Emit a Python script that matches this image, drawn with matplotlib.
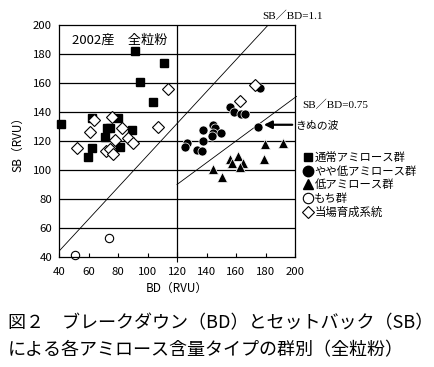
import numpy as np
import matplotlib
matplotlib.use("Agg")
import matplotlib.pyplot as plt
from matplotlib.lines import Line2D

plt.rcParams['font.family'] = ['Noto Sans CJK JP', 'DejaVu Sans']

# ---- data (BD, SB in RVU) ----
normal_bd = [41.2, 62.4, 80.0, 72.5, 74.6, 89.5, 71.2, 81.4, 62.4, 59.7, 91.5, 111.2, 94.9, 103.7]
normal_sb = [131.7, 135.9, 135.9, 129.0, 129.0, 127.6, 122.8, 115.9, 115.2, 109.0, 182.0, 173.8, 160.7, 146.9]

slightlow_bd = [155.9, 158.6, 163.4, 166.1, 176.3, 174.9, 144.4, 145.8, 137.6, 144.4, 149.8, 143.7,
                137.6, 126.8, 125.4, 133.6, 137.0]
slightlow_sb = [143.4, 140.0, 138.6, 138.6, 156.6, 129.7, 131.0, 129.0, 127.6, 125.5, 125.5, 123.4,
                120.0, 118.6, 115.9, 113.8, 113.1]

low_bd = [179.7, 191.9, 179.0, 161.4, 155.9, 157.3, 164.7, 162.7, 144.4, 150.5]
low_sb = [117.9, 118.6, 107.6, 109.7, 107.6, 104.8, 104.8, 102.0, 100.7, 95.2]

waxy_bd = [51.0, 74.0]
waxy_sb = [41.4, 53.0]

breed_bd = [52.2, 63.7, 61.0, 75.9, 82.7, 78.0, 86.8, 90.2, 71.9, 74.6, 76.6, 107.1, 113.9, 162.7, 172.9]
breed_sb = [115.2, 134.5, 126.2, 136.6, 129.0, 120.7, 122.0, 118.6, 113.1, 114.5, 111.0, 129.7, 155.9, 147.6, 158.6]

labels = ['通常アミロース群', 'やや低アミロース群', '低アミロース群', 'もち群', '当場育成系統']
ratio_hi = 1.1
ratio_lo = 0.75
kinu_bd, kinu_sb = 174.9, 129.7
xticks = [40, 60, 80, 100, 120, 140, 160, 180, 200]
yticks = [40, 60, 80, 100, 120, 140, 160, 180, 200]

# ---- figure ----
fig = plt.figure(figsize=(4.34, 3.67), dpi=100)
ax = fig.add_axes([59/434, 1-257/367, (295-59)/434, (257-25)/367])
ax.set_xlim(40, 200)
ax.set_ylim(40, 200)

for y in yticks[1:-1]:
    ax.axhline(y, color='black', lw=0.9, zorder=1)
ax.axvline(120, color='black', lw=0.9, zorder=1)

xs = np.array([40, 200])
ax.plot(xs, ratio_hi * xs, color='black', lw=0.6, zorder=2)
xs2 = np.array([120, 201])
ax.plot(xs2, ratio_lo * xs2, color='black', lw=0.6, zorder=2, clip_on=False)

ax.plot(normal_bd, normal_sb, 's', ms=5.8, mfc='black', mec='black', ls='none', zorder=4, clip_on=False)
ax.plot(slightlow_bd, slightlow_sb, 'o', ms=6.5, mfc='black', mec='white', mew=0.5, ls='none', zorder=4)
ax.plot(low_bd, low_sb, '^', ms=7.3, mfc='black', mec='white', mew=0.5, ls='none', zorder=4)
ax.plot(waxy_bd, waxy_sb, 'o', ms=6, mfc='white', mec='black', mew=0.8, ls='none', zorder=4, clip_on=False)
ax.plot(breed_bd, breed_sb, 'D', ms=6.2, mfc='white', mec='black', mew=0.8, ls='none', zorder=5)

for s in ax.spines.values():
    s.set_linewidth(0.9)
    s.set_zorder(6)

ax.set_xticks(xticks)
ax.set_yticks(yticks)
ax.tick_params(axis='x', direction='in', length=3, width=0.8, labelsize=8.2, pad=7)
ax.tick_params(axis='y', length=0, labelsize=8.2, pad=5)
t120 = ax.xaxis.get_major_ticks()[4]
t120.tick1line.set_marker('|')
t120.tick1line.set_markersize(7)

ax.set_xlabel('BD（RVU）', fontsize=8.5, labelpad=4)
ax.set_ylabel('SB（RVU）', fontsize=8.5, labelpad=6)

ax.text(49, 194, '2002産　全粒粉', fontsize=9.5, va='top', ha='left', zorder=7)

serif = ['Liberation Serif', 'Noto Sans CJK JP']
ax.text(198.5, 206, 'SB／BD=1.1', fontsize=8, ha='center', va='center', family=serif)
ax.text(205, 145, 'SB／BD=0.75', fontsize=8, ha='left', va='center', family=serif)
ax.annotate('きぬの波', xy=(kinu_bd + 4, kinu_sb + 1.5), xytext=(200, kinu_sb + 1.5),
            fontsize=7.8, ha='left', va='center', annotation_clip=False,
            arrowprops=dict(arrowstyle='-|>,head_length=0.6,head_width=0.3', color='black', lw=1.6,
                            shrinkA=0, shrinkB=0))

handles = [
    Line2D([], [], marker='s', ls='none', mfc='black', mec='black', ms=6.3),
    Line2D([], [], marker='o', ls='none', mfc='black', mec='black', ms=7.5),
    Line2D([], [], marker='^', ls='none', mfc='black', mec='black', ms=7.5),
    Line2D([], [], marker='o', ls='none', mfc='white', mec='black', mew=0.8, ms=7.5),
    Line2D([], [], marker='D', ls='none', mfc='white', mec='black', mew=0.8, ms=6.3),
]
fig.legend(handles, labels, loc='upper left', bbox_to_anchor=(303/434, 1-152/367),
           frameon=False, fontsize=8.2, handlelength=0.9, handletextpad=0.1,
           labelspacing=0.25, borderpad=0, borderaxespad=0)

fig.text(8/434, 1-323/367, '図２　ブレークダウン（BD）とセットバック（SB）',
         fontsize=13, ha='left', va='center')
fig.text(8/434, 1-350/367, 'による各アミロース含量タイプの群別（全粒粉）',
         fontsize=13, ha='left', va='center')

fig.savefig('out.png', dpi=100)
